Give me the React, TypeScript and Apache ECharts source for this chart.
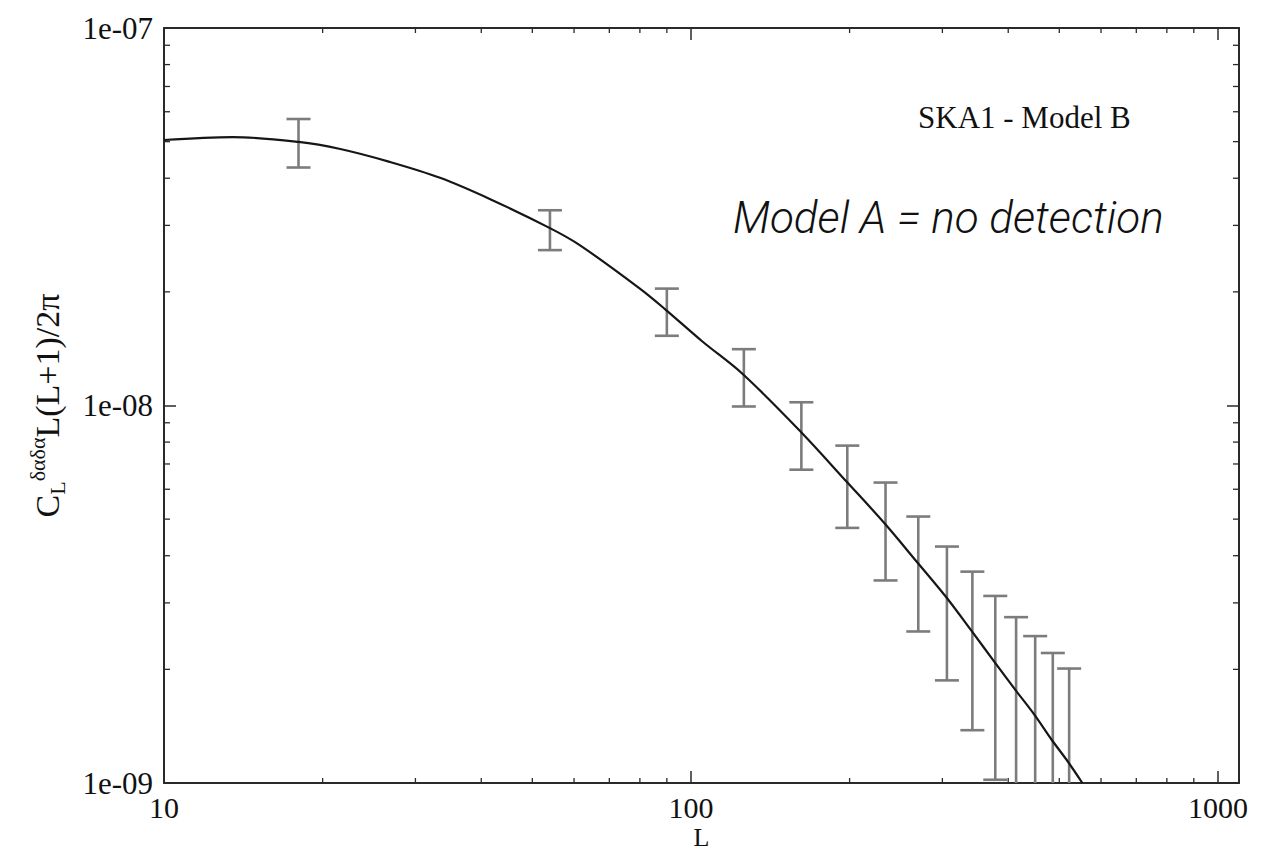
import React, { useEffect, useRef } from 'react';
import * as echarts from 'echarts';

// ---- data ----
const xTickLabels = ['10', '100', '1000'];
const yTickLabels = ['1e-09', '1e-08', '1e-07'];

// model curve: multipole L and C_L L(L+1)/2pi
const curveL = [10, 13.5, 18, 21.6, 26.8, 33.4, 41.6, 54, 61.5, 80, 89.7, 105, 125.5, 161.7, 197.7, 232.5, 268.5, 304.9, 340, 376, 412, 448, 484, 519, 553];
const curveC = [5.05e-8, 5.14e-8, 4.99e-8, 4.78e-8, 4.42e-8, 4.01e-8, 3.52e-8, 2.95e-8, 2.66e-8, 2.04e-8, 1.79e-8, 1.48e-8, 1.21e-8, 8.51e-9, 6.27e-9, 4.89e-9, 3.85e-9, 3.11e-9, 2.54e-9, 2.1e-9, 1.77e-9, 1.52e-9, 1.3e-9, 1.14e-9, 1.0e-9];

// error bars (bin centres, lower and upper ends)
const barL = [18, 54, 90, 126, 162, 198, 234, 270, 306, 342, 378, 414, 450, 486, 522];
const barLow = [4.27e-8, 2.58e-8, 1.53e-8, 9.94e-9, 6.76e-9, 4.74e-9, 3.44e-9, 2.52e-9, 1.87e-9, 1.38e-9, 1.02e-9, 0.79e-9, 0.57e-9, 0.39e-9, 0.25e-9];
const barHigh = [5.74e-8, 3.29e-8, 2.04e-8, 1.41e-8, 1.02e-8, 7.83e-9, 6.25e-9, 5.08e-9, 4.23e-9, 3.63e-9, 3.13e-9, 2.75e-9, 2.45e-9, 2.21e-9, 2.01e-9];

const xMinLog = 1;
const xMaxLog = 3.04;
const yMinLog = -9;
const yMaxLog = -7;

const SERIF = '"Liberation Serif", "DejaVu Serif", serif';
const AXIS_COLOR = '#2a2a2a';
const BAR_COLOR = '#7c7c7c';
const TEXT_COLOR = '#111111';

const lg = (v: number) => Math.log10(v);

export default function App() {
  const ref = useRef<HTMLDivElement>(null);

  useEffect(() => {
    if (!ref.current) return;
    const chart = echarts.init(ref.current, undefined, { renderer: 'svg' });

    const curveData = curveL.map((l, i) => [lg(l), lg(curveC[i])]);
    const barData = barL.map((l, i) => [lg(l), lg(barLow[i]), lg(barHigh[i])]);

    const xMinor: number[][] = [];
    for (let e = 1; e <= 2; e++) for (let k = 2; k <= 9; k++) xMinor.push([lg(k * Math.pow(10, e)), yMinLog]);
    const yMinor: number[][] = [];
    for (let e = -9; e <= -8; e++) for (let k = 2; k <= 9; k++) yMinor.push([xMinLog, lg(k * Math.pow(10, e))]);

    const xLabelFmt = (v: number) => {
      const r = Math.round(v);
      if (Math.abs(v - r) > 1e-6) return '';
      return xTickLabels[r - 1] ?? '';
    };
    const yLabelFmt = (v: number) => {
      const r = Math.round(v);
      if (Math.abs(v - r) > 1e-6) return '';
      return yTickLabels[r + 9] ?? '';
    };

    const axisLine = { show: true, lineStyle: { color: AXIS_COLOR, width: 2 } };
    const axisTick = { show: true, inside: true, length: 12, lineStyle: { color: AXIS_COLOR, width: 1.5 } };
    const labelStyle = { fontFamily: SERIF, fontSize: 30, color: TEXT_COLOR };

    const option: any = {
      animation: false,
      backgroundColor: '#ffffff',
      grid: { left: 164, right: 34, top: 28, bottom: 68, containLabel: false, outerBoundsMode: 'none' },
      xAxis: [
        {
          type: 'value', min: xMinLog, max: xMaxLog, interval: 1, position: 'bottom',
          axisLine, axisTick, splitLine: { show: false },
          axisLabel: { ...labelStyle, lineHeight: 30, margin: 9, formatter: xLabelFmt, showMaxLabel: false },
          name: 'L', nameLocation: 'middle', nameGap: 41, nameMoveOverlap: false,
          nameTextStyle: { fontFamily: SERIF, fontSize: 26, lineHeight: 26, color: TEXT_COLOR },
        },
        {
          type: 'value', min: xMinLog, max: xMaxLog, interval: 1, position: 'top',
          axisLine, axisTick, splitLine: { show: false }, axisLabel: { show: false },
        },
      ],
      yAxis: [
        {
          type: 'value', min: yMinLog, max: yMaxLog, interval: 1, position: 'left',
          axisLine, axisTick, splitLine: { show: false },
          axisLabel: { ...labelStyle, fontSize: 31, margin: 11, formatter: yLabelFmt },
          name: '{c|C}{sub|L}{sup|δαδα}{c|L(L+1)/2π}', nameLocation: 'middle', nameGap: 96, nameMoveOverlap: false,
          nameTextStyle: {
            fontFamily: SERIF, fontSize: 34, color: TEXT_COLOR,
            rich: {
              c: { fontFamily: SERIF, fontSize: 34, lineHeight: 42, color: TEXT_COLOR, verticalAlign: 'middle' },
              sub: { fontFamily: SERIF, fontSize: 22, lineHeight: 18, color: TEXT_COLOR, verticalAlign: 'bottom' },
              sup: { fontFamily: SERIF, fontSize: 22, lineHeight: 18, color: TEXT_COLOR, verticalAlign: 'top' },
            },
          },
        },
        {
          type: 'value', min: yMinLog, max: yMaxLog, interval: 1, position: 'right',
          axisLine, axisTick, splitLine: { show: false }, axisLabel: { show: false },
        },
      ],
      series: [
        {
          type: 'custom', name: 'minor-x', xAxisIndex: 0, yAxisIndex: 0, silent: true, z: 3,
          data: xMinor,
          renderItem: (params: any, api: any) => {
            const cs = params.coordSys;
            const p = api.coord([api.value(0), api.value(1)]);
            const st = { stroke: AXIS_COLOR, lineWidth: 1.3 };
            return {
              type: 'group',
              children: [
                { type: 'line', shape: { x1: p[0], y1: cs.y + cs.height, x2: p[0], y2: cs.y + cs.height - 5 }, style: st },
                { type: 'line', shape: { x1: p[0], y1: cs.y, x2: p[0], y2: cs.y + 5 }, style: st },
              ],
            };
          },
        },
        {
          type: 'custom', name: 'minor-y', xAxisIndex: 0, yAxisIndex: 0, silent: true, z: 3,
          data: yMinor,
          renderItem: (params: any, api: any) => {
            const cs = params.coordSys;
            const p = api.coord([api.value(0), api.value(1)]);
            const st = { stroke: AXIS_COLOR, lineWidth: 1.3 };
            return {
              type: 'group',
              children: [
                { type: 'line', shape: { x1: cs.x, y1: p[1], x2: cs.x + 6, y2: p[1] }, style: st },
                { type: 'line', shape: { x1: cs.x + cs.width, y1: p[1], x2: cs.x + cs.width - 6, y2: p[1] }, style: st },
              ],
            };
          },
        },
        {
          type: 'custom', name: 'errors', xAxisIndex: 0, yAxisIndex: 0, silent: true, z: 4,
          data: barData,
          renderItem: (params: any, api: any) => {
            const cs = params.coordSys;
            const bottom = cs.y + cs.height;
            const lo = api.coord([api.value(0), api.value(1)]);
            const hi = api.coord([api.value(0), api.value(2)]);
            const x = lo[0];
            const st = { stroke: BAR_COLOR, lineWidth: 2.6 };
            const yLo = Math.min(lo[1], bottom);
            const children: any[] = [
              { type: 'line', shape: { x1: x, y1: yLo, x2: x, y2: hi[1] }, style: st },
              { type: 'line', shape: { x1: x - 12, y1: hi[1], x2: x + 12, y2: hi[1] }, style: st },
            ];
            if (lo[1] <= bottom) children.push({ type: 'line', shape: { x1: x - 12, y1: lo[1], x2: x + 12, y2: lo[1] }, style: st });
            return { type: 'group', children };
          },
        },
        {
          type: 'line', name: 'model', xAxisIndex: 0, yAxisIndex: 0, z: 5,
          data: curveData, showSymbol: false, smooth: 0.35, clip: true,
          lineStyle: { color: '#161616', width: 2.2 },
        },
      ],
      graphic: [
        {
          type: 'text', left: 918, top: 102,
          style: { text: 'SKA1 - Model B', font: `31px ${SERIF}`, fill: TEXT_COLOR },
        },
        {
          type: 'text', left: 733, top: 196,
          style: { text: 'Model A = no detection', font: 'italic 300 44px Roboto, "Open Sans", sans-serif', fill: '#111111' },
        },
      ],
    };

    chart.setOption(option);
    return () => chart.dispose();
  }, []);

  return <div ref={ref} style={{ position: 'fixed', left: 0, top: 0, width: 1273, height: 851, background: '#fff' }} />;
}
